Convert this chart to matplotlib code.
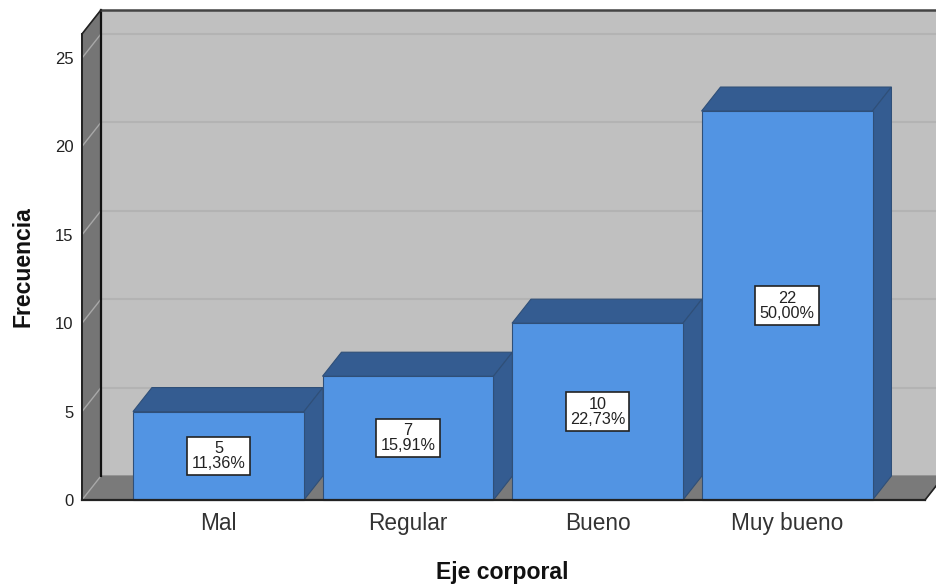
import matplotlib
matplotlib.use("Agg")
import matplotlib.pyplot as plt
from matplotlib.patches import Polygon

plt.rcParams['font.family'] = ['Liberation Sans', 'DejaVu Sans']

categorias = ["Mal", "Regular", "Bueno", "Muy bueno"]
frecuencias = [5, 7, 10, 22]
porcentajes = ["11,36%", "15,91%", "22,73%", "50,00%"]
marcas_y = [0, 5, 10, 15, 20, 25]

# colores
PARED = "#c0c0c0"
LADO = "#757575"
SUELO = "#7a7a7a"
REJILLA = "#b3b3b3"
REJILLA_LADO = "#a8a8a8"
FRENTE = "#5294e3"
OSCURO = "#345c91"
BORDE = "#2f4f78"

# profundidad del efecto 3D, en unidades de datos
DX = 0.1
DY = 1.36
ANCHO = 0.902
X0, X1 = -0.72, 3.728
YMAX = 26.36

fig = plt.figure(figsize=(9.36, 5.84), dpi=100)
ax = fig.add_axes([82 / 936, 84 / 584, 843 / 936, 466 / 584])
ax.set_xlim(X0, X1)
ax.set_ylim(0, YMAX)
for s in ax.spines.values():
    s.set_visible(False)
ax.patch.set_visible(False)


def poly(puntos, color, borde=None, lw=0.8, z=1):
    ax.add_patch(Polygon(puntos, closed=True, facecolor=color,
                         edgecolor=borde if borde else color,
                         linewidth=lw, zorder=z, clip_on=False))


# paredes y suelo
poly([(X0 + DX, DY), (X1 + 2 * DX, DY), (X1 + 2 * DX, YMAX + DY), (X0 + DX, YMAX + DY)], PARED, z=1)
poly([(X0, 0), (X0 + DX, DY), (X0 + DX, YMAX + DY), (X0, YMAX)], LADO, z=1)
poly([(X0, 0), (X1, 0), (X1 + DX, DY), (X1 + 2 * DX, DY), (X0 + DX, DY)], SUELO, z=1)

# rejilla
for v in marcas_y:
    if v > 0:
        ax.plot([X0 + DX, X1 + 2 * DX], [v + DY, v + DY], color=REJILLA, lw=1.5, zorder=2, clip_on=False)
    ax.plot([X0, X0 + DX], [v, v + DY], color=REJILLA_LADO, lw=1, zorder=2, clip_on=False)

# bordes del marco
ax.plot([X0 + DX, X0 + DX], [DY, YMAX + DY], color="#111111", lw=1.6, zorder=3, clip_on=False)
ax.plot([X0 + DX, X1 + 2 * DX], [YMAX + DY, YMAX + DY], color="#444444", lw=1.8, zorder=3, clip_on=False)
ax.plot([X0, X0], [0, YMAX], color="#222222", lw=1.4, zorder=3, clip_on=False)
ax.plot([X0, X0 + DX], [YMAX, YMAX + DY], color="#222222", lw=1.2, zorder=3, clip_on=False)
ax.plot([X1, X1 + DX], [0, DY], color="#222222", lw=1.2, zorder=3, clip_on=False)

# barras
for i, f in enumerate(frecuencias):
    a = i - ANCHO / 2
    b = i + ANCHO / 2
    poly([(a, f), (b, f), (b + DX, f + DY), (a + DX, f + DY)], OSCURO, BORDE, z=4)
    poly([(b, 0), (b + DX, DY), (b + DX, f + DY), (b, f)], OSCURO, BORDE, z=4)
    ax.bar(i, f, width=ANCHO, color=FRENTE, edgecolor=BORDE, linewidth=0.8, zorder=5, clip_on=False)
    ax.text(i, f / 2, f"{f}\n{porcentajes[i]}", ha="center", va="center", fontsize=11.7,
            color="#222222", linespacing=1.0, zorder=7,
            bbox=dict(boxstyle="square,pad=0.26", facecolor="white", edgecolor="#222222", linewidth=1.2))

ax.plot([X0, X1], [0, 0], color="#222222", lw=1.6, zorder=6, clip_on=False)

ax.set_yticks(marcas_y)
ax.set_xticks(range(len(categorias)))
ax.set_xticklabels(categorias, fontsize=16.3, color="#333333")
ax.tick_params(axis="x", length=0, pad=8.5)
ax.tick_params(axis="y", length=0, pad=6, labelsize=12, labelcolor="#222222")

fig.text(23 / 936, 1 - 267 / 584, "Frecuencia", rotation=90, ha="center", va="center",
         fontsize=16.6, fontweight="bold", color="#111111")
fig.text(502.5 / 936, 1 - 572 / 584, "Eje corporal", ha="center", va="center",
         fontsize=16.6, fontweight="bold", color="#111111")

fig.savefig("out.png", dpi=100)
